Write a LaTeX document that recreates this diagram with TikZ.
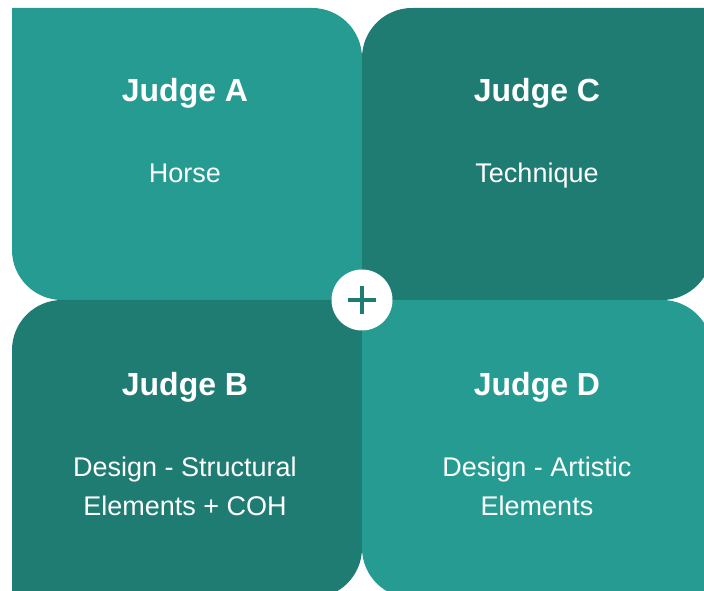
\documentclass[tikz,border=0pt]{standalone}
\usepackage{fontspec}
\setmainfont{Liberation Sans}
\usepackage{xcolor}

\definecolor{tealA}{RGB}{38,155,145}
\definecolor{tealB}{RGB}{31,124,115}

\begin{document}
\begin{tikzpicture}[x=1pt, y=1pt,
        judge/.style = {text=white, anchor=base, font=\fontsize{32}{38}\selectfont\bfseries},
        part/.style = {text=white, anchor=base, align=center, font=\fontsize{27}{39}\selectfont}]
    \useasboundingbox (0,0) rectangle (704,591);
    \clip (0,0) rectangle (704,591);

    % the four boxes
    \fill[tealA] (12,583) -- (312,583) arc[start angle=90, end angle=0, radius=50] -- (362,291) -- (62,291) arc[start angle=270, end angle=180, radius=50] -- cycle;
    \fill[tealB] (362,533) arc[start angle=180, end angle=90, radius=50] -- (712,583) -- (712,341) arc[start angle=0, end angle=-90, radius=50] -- (362,291) -- cycle;
    \fill[tealB] (12,241) arc[start angle=180, end angle=90, radius=50] -- (362,291) -- (362,43) arc[start angle=0, end angle=-90, radius=50] -- (12,-7) -- cycle;
    \fill[tealA] (362,291) -- (662,291) arc[start angle=90, end angle=0, radius=50] -- (712,-7) -- (412,-7) arc[start angle=270, end angle=180, radius=50] -- cycle;

    \node[judge] (A) at (185,489) {Judge A};
    \node[part] (horse) at (185,408) {Horse};
    \node[judge] (C) at (537,489) {Judge C};
    \node[part] (tech) at (537,408) {Technique};
    \node[judge] (B) at (185,195) {Judge B};
    \node[part] (struct) at (185,75) {Design - Structural\\Elements + COH};
    \node[judge] (D) at (537,195) {Judge D};
    \node[part] (art) at (537,75) {Design - Artistic\\Elements};

    % plus in the middle
    \node[circle, fill=white, minimum size=61pt, inner sep=0pt] (plus) at (362,291) {};
    \draw[tealB, line width=3.4pt] (plus.center) ++(-14,0) -- ++(28,0);
    \draw[tealB, line width=3.4pt] (plus.center) ++(0,-14) -- ++(0,28);
\end{tikzpicture}
\end{document}
